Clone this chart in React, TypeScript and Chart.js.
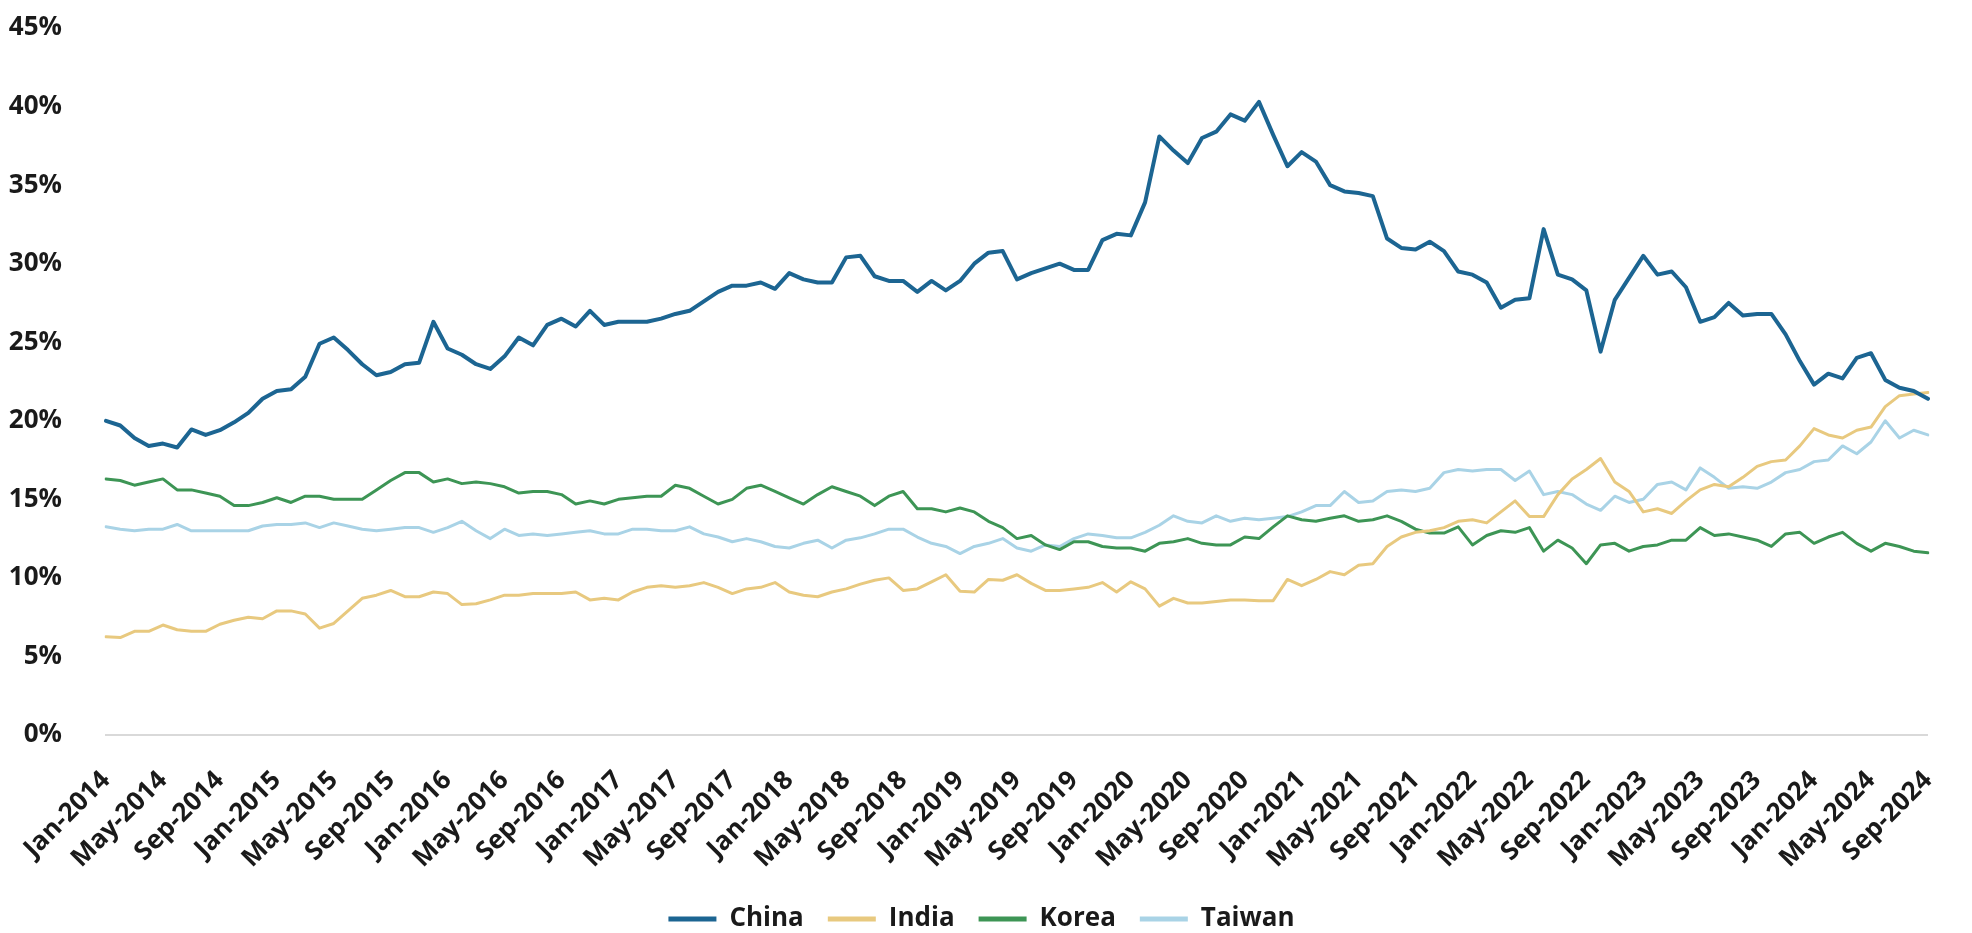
import React, { useEffect, useRef } from 'react';
import { Chart, registerables } from 'chart.js';

Chart.register(...registerables);

const MONTHS = ['Jan', 'Feb', 'Mar', 'Apr', 'May', 'Jun', 'Jul', 'Aug', 'Sep', 'Oct', 'Nov', 'Dec'];
const YEARS = [2014, 2015, 2016, 2017, 2018, 2019, 2020, 2021, 2022, 2023, 2024];
const LAST_MONTH_COUNT = 9; // data runs to Sep-2024

const categories: string[] = [];
for (const y of YEARS) {
  const count = y === YEARS[YEARS.length - 1] ? LAST_MONTH_COUNT : 12;
  for (let m = 0; m < count; m++) categories.push(`${MONTHS[m]}-${y}`);
}

const china = [
  20.0, 19.7, 18.9, 18.4, 18.55, 18.3, 19.45, 19.1, 19.4, 19.9,
  20.5, 21.4, 21.9, 22.0, 22.8, 24.9, 25.3, 24.5, 23.6, 22.9,
  23.1, 23.6, 23.7, 26.3, 24.6, 24.2, 23.6, 23.3, 24.1, 25.3,
  24.8, 26.1, 26.5, 26.0, 27.0, 26.1, 26.3, 26.3, 26.3, 26.5,
  26.8, 27.0, 27.6, 28.2, 28.6, 28.6, 28.8, 28.4, 29.4, 29.0,
  28.8, 28.8, 30.4, 30.5, 29.2, 28.9, 28.9, 28.2, 28.9, 28.3,
  28.9, 30.0, 30.7, 30.8, 29.0, 29.4, 29.7, 30.0, 29.6, 29.6,
  31.5, 31.9, 31.8, 33.9, 38.1, 37.2, 36.4, 38.0, 38.4, 39.5,
  39.1, 40.3, 38.2, 36.2, 37.1, 36.5, 35.0, 34.6, 34.5, 34.3,
  31.6, 31.0, 30.9, 31.4, 30.8, 29.5, 29.3, 28.8, 27.2, 27.7,
  27.8, 32.2, 29.3, 29.0, 28.3, 24.4, 27.7, 29.1, 30.5, 29.3,
  29.5, 28.5, 26.3, 26.6, 27.5, 26.7, 26.8, 26.8, 25.5, 23.8,
  22.3, 23.0, 22.7, 24.0, 24.3, 22.6, 22.1, 21.9, 21.4,
];

const india = [
  6.25, 6.2, 6.6, 6.6, 7.0, 6.7, 6.6, 6.6, 7.05, 7.3,
  7.5, 7.4, 7.9, 7.9, 7.7, 6.8, 7.1, 7.9, 8.7, 8.9,
  9.2, 8.8, 8.8, 9.1, 9.0, 8.3, 8.35, 8.6, 8.9, 8.9,
  9.0, 9.0, 9.0, 9.1, 8.6, 8.7, 8.6, 9.1, 9.4, 9.5,
  9.4, 9.5, 9.7, 9.4, 9.0, 9.3, 9.4, 9.7, 9.1, 8.9,
  8.8, 9.1, 9.3, 9.6, 9.85, 10.0, 9.2, 9.3, 9.75, 10.2,
  9.15, 9.1, 9.9, 9.85, 10.2, 9.65, 9.2, 9.2, 9.3, 9.4,
  9.7, 9.1, 9.75, 9.3, 8.2, 8.7, 8.4, 8.4, 8.5, 8.6,
  8.6, 8.55, 8.55, 9.9, 9.5, 9.9, 10.4, 10.2, 10.8, 10.9,
  12.0, 12.6, 12.9, 13.0, 13.2, 13.6, 13.7, 13.5, 14.2, 14.9,
  13.9, 13.9, 15.3, 16.3, 16.9, 17.6, 16.1, 15.5, 14.2, 14.4,
  14.1, 14.9, 15.6, 15.95, 15.8, 16.4, 17.1, 17.4, 17.5, 18.4,
  19.5, 19.1, 18.9, 19.4, 19.6, 20.9, 21.6, 21.7, 21.8,
];

const korea = [
  16.3, 16.2, 15.9, 16.1, 16.3, 15.6, 15.6, 15.4, 15.2, 14.6,
  14.6, 14.8, 15.1, 14.8, 15.2, 15.2, 15.0, 15.0, 15.0, 15.6,
  16.2, 16.7, 16.7, 16.1, 16.3, 16.0, 16.1, 16.0, 15.8, 15.4,
  15.5, 15.5, 15.3, 14.7, 14.9, 14.7, 15.0, 15.1, 15.2, 15.2,
  15.9, 15.7, 15.2, 14.7, 15.0, 15.7, 15.9, 15.5, 15.1, 14.7,
  15.3, 15.8, 15.5, 15.2, 14.6, 15.2, 15.5, 14.4, 14.4, 14.2,
  14.45, 14.2, 13.6, 13.2, 12.5, 12.7, 12.1, 11.8, 12.3, 12.3,
  12.0, 11.9, 11.9, 11.7, 12.2, 12.3, 12.5, 12.2, 12.1, 12.1,
  12.6, 12.5, 13.25, 13.95, 13.7, 13.6, 13.8, 13.95, 13.6, 13.7,
  13.95, 13.6, 13.1, 12.85, 12.85, 13.25, 12.1, 12.7, 13.0, 12.9,
  13.2, 11.7, 12.4, 11.9, 10.9, 12.1, 12.2, 11.7, 12.0, 12.1,
  12.4, 12.4, 13.2, 12.7, 12.8, 12.6, 12.4, 12.0, 12.8, 12.9,
  12.2, 12.6, 12.9, 12.2, 11.7, 12.2, 12.0, 11.7, 11.6,
];

const taiwan = [
  13.25, 13.1, 13.0, 13.1, 13.1, 13.4, 13.0, 13.0, 13.0, 13.0,
  13.0, 13.3, 13.4, 13.4, 13.5, 13.2, 13.5, 13.3, 13.1, 13.0,
  13.1, 13.2, 13.2, 12.9, 13.2, 13.6, 13.0, 12.5, 13.1, 12.7,
  12.8, 12.7, 12.8, 12.9, 13.0, 12.8, 12.8, 13.1, 13.1, 13.0,
  13.0, 13.25, 12.8, 12.6, 12.3, 12.5, 12.3, 12.0, 11.9, 12.2,
  12.4, 11.9, 12.4, 12.55, 12.8, 13.1, 13.1, 12.6, 12.2, 12.0,
  11.55, 12.0, 12.2, 12.5, 11.9, 11.7, 12.1, 12.0, 12.5, 12.8,
  12.7, 12.55, 12.55, 12.9, 13.35, 13.95, 13.6, 13.5, 13.95, 13.6,
  13.8, 13.7, 13.8, 13.9, 14.2, 14.6, 14.6, 15.5, 14.8, 14.9,
  15.5, 15.6, 15.5, 15.7, 16.7, 16.9, 16.8, 16.9, 16.9, 16.2,
  16.8, 15.3, 15.5, 15.3, 14.7, 14.3, 15.2, 14.8, 15.0, 15.95,
  16.1, 15.6, 17.0, 16.4, 15.7, 15.8, 15.7, 16.1, 16.7, 16.9,
  17.4, 17.5, 18.4, 17.9, 18.65, 20.0, 18.9, 19.4, 19.1,
];

const seriesNames = ['China', 'India', 'Korea', 'Taiwan'];
const seriesColors = ['#1c6592', '#e8c97f', '#3d9555', '#a9d3e6'];
const seriesWidths = [4, 3, 3, 3];
const yTicks = [0, 5, 10, 15, 20, 25, 30, 35, 40, 45];

const FONT = "'Open Sans', 'DejaVu Sans', sans-serif";
const TEXT = '#1a1a1a';

export default function App() {
  const ref = useRef<HTMLCanvasElement | null>(null);

  useEffect(() => {
    document.body.style.margin = '0';
    document.body.style.overflow = 'hidden';
    const canvas = ref.current;
    if (!canvas) return;
    const values = [china, india, korea, taiwan];
    const chart = new Chart(canvas, {
      type: 'line',
      data: {
        labels: categories,
        datasets: seriesNames.map((name, i) => ({
          label: name,
          data: values[i],
          borderColor: seriesColors[i],
          backgroundColor: seriesColors[i],
          borderWidth: seriesWidths[i],
          pointRadius: 0,
          tension: 0,
          borderJoinStyle: 'round' as const,
          borderCapStyle: 'round' as const,
        })),
      },
      options: {
        responsive: false,
        maintainAspectRatio: false,
        animation: false,
        devicePixelRatio: 1,
        layout: { padding: { top: 28, right: 9, left: 0, bottom: -9 } },
        plugins: {
          tooltip: { enabled: false },
          legend: {
            position: 'bottom',
            labels: {
              usePointStyle: true,
              pointStyle: 'line',
              pointStyleWidth: 48,
              padding: 24,
              color: TEXT,
              font: { family: FONT, size: 26, weight: 'bold' },
              generateLabels: (c: any) => {
                const items = Chart.defaults.plugins.legend.labels.generateLabels(c);
                return items.map((it: any) => ({ ...it, lineWidth: 5, pointStyle: 'line' }));
              },
            },
          },
        },
        scales: {
          x: {
            grid: { display: false },
            border: { display: true, color: '#d9d9d9', width: 2 },
            afterFit: (scale: any) => {
              scale.height = 147;
            },
            ticks: {
              autoSkip: false,
              maxRotation: 45,
              minRotation: 45,
              padding: 22,
              color: TEXT,
              font: { family: FONT, size: 26, weight: 'bold' },
              callback: (_v: any, idx: number) => (idx % 4 === 0 ? categories[idx] : null),
            },
          },
          y: {
            min: 0,
            max: 45,
            grid: { display: false },
            border: { display: false },
            afterFit: (scale: any) => {
              scale.width = 106;
              scale.paddingTop = 10;
              scale.paddingBottom = 10;
            },
            afterBuildTicks: (scale: any) => {
              scale.ticks = yTicks.map((v) => ({ value: v }));
            },
            ticks: {
              padding: 36,
              color: TEXT,
              font: { family: FONT, size: 26, weight: 'bold' },
              callback: (v: any) => `${v}%`,
            },
          },
        },
      },
    });
    return () => chart.destroy();
  }, []);

  return (
    <div style={{ width: 1972, height: 933, background: '#fff' }}>
      <canvas ref={ref} width={1972} height={933} style={{ display: 'block', width: 1972, height: 933 }} />
    </div>
  );
}
